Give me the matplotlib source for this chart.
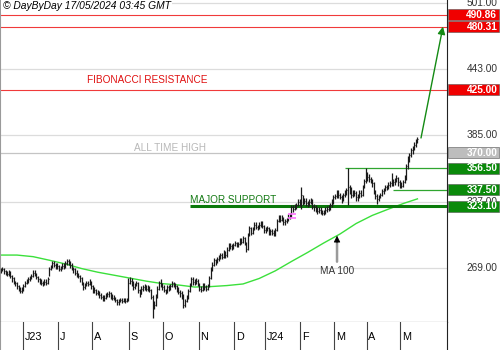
import numpy as np
import pandas as pd
import matplotlib
matplotlib.use("Agg")
import matplotlib.pyplot as plt
from matplotlib.patches import Rectangle

plt.rcParams['font.family'] = ['Liberation Sans', 'DejaVu Sans']

# trading days (Euronext holidays removed)
holidays = ['2023-12-25', '2023-12-26', '2024-01-01', '2024-03-29', '2024-04-01', '2024-05-01']
days = pd.bdate_range('2023-05-12', '2024-05-16')
days = days[~days.isin(pd.to_datetime(holidays))]

# daily closes
cl = [267, 268, 266, 265, 264, 265, 262, 260, 257, 256,
      253, 251, 249, 250, 253, 256, 257, 259, 260, 262,
      265, 264, 261, 259, 257, 256, 255, 257, 256, 259,
      268, 270, 273, 272, 270, 271, 268, 269, 271, 270,
      273, 275, 274, 272, 269, 268, 265, 264, 262, 260,
      256, 252, 254, 256, 255, 257, 253, 249, 250, 247,
      248, 245, 244, 242, 243, 245, 246, 247, 244, 243,
      243, 241, 239, 240, 241, 240, 241, 240, 241, 256,
      258, 257, 252, 254, 256, 250, 246, 251, 252, 253,
      251, 252, 250, 244, 234, 237, 244, 251, 256, 255,
      252, 250, 248, 252, 251, 253, 256, 254, 253, 250,
      248, 247, 244, 237, 240, 243, 249, 254, 259, 257,
      257, 258, 255, 251, 250, 254, 252, 251, 253, 260,
      268, 272, 276, 274, 277, 278, 280, 279, 283, 280,
      285, 289, 288, 287, 289, 291, 289, 290, 293, 292,
      295, 291, 286, 298, 304, 300, 303, 307, 305, 304,
      307, 308, 306, 302, 303, 304, 300, 301, 300, 299,
      302, 310, 313, 311, 313, 309, 310, 311, 314, 315,
      322, 321, 323, 324, 327, 326, 333, 327, 328, 326,
      325, 327, 328, 323, 322, 320, 319, 320, 318, 317,
      318, 320, 321, 322, 324, 326, 331, 332, 335, 333,
      331, 329, 333, 335, 337, 340, 338, 333, 334, 335,
      331, 332, 335, 333, 340, 345, 350, 349, 347, 346,
      343, 336, 332, 329, 331, 333, 336, 337, 340, 339,
      342, 343, 345, 344, 346, 348, 344, 342, 341, 344,
      348, 358, 365, 368, 372, 374, 377, 380, 382]

hi = [269, 270, 269, 267, 266, 267, 266, 263, 261, 258,
      257, 254, 252, 252, 255, 258, 259, 261, 262, 264,
      267, 267, 265, 262, 260, 259, 258, 259, 259, 261,
      270, 272, 275, 275, 273, 273, 272, 271, 273, 273,
      275, 277, 277, 275, 273, 270, 269, 267, 265, 263,
      261, 257, 256, 258, 258, 259, 258, 254, 252, 251,
      250, 249, 247, 245, 245, 247, 248, 249, 248, 246,
      245, 244, 242, 242, 243, 243, 243, 243, 243, 260,
      261, 260, 258, 256, 258, 257, 251, 253, 254, 255,
      254, 254, 253, 251, 245, 240, 246, 253, 258, 259,
      256, 254, 251, 254, 254, 255, 258, 257, 256, 254,
      252, 250, 249, 246, 242, 245, 251, 256, 261, 261,
      259, 260, 259, 256, 253, 256, 256, 254, 255, 262,
      270, 274, 278, 277, 279, 280, 282, 282, 285, 284,
      287, 291, 291, 290, 291, 293, 292, 292, 295, 295,
      297, 296, 292, 300, 306, 305, 305, 309, 309, 307,
      309, 310, 310, 307, 305, 306, 305, 303, 303, 302,
      304, 312, 315, 315, 315, 314, 312, 313, 316, 317,
      324, 324, 325, 326, 329, 329, 340, 333, 330, 330,
      328, 329, 330, 329, 325, 324, 322, 322, 322, 320,
      320, 322, 323, 324, 326, 329, 333, 334, 337, 337,
      335, 333, 335, 337, 339, 356.5, 342, 340, 337, 337,
      336, 334, 337, 337, 342, 347, 356.5, 353, 351, 349,
      347, 344, 337, 334, 333, 335, 338, 339, 342, 342,
      344, 345, 352.5, 347, 348, 350, 349, 346, 344, 346,
      350, 360, 367, 370, 374, 376, 379, 382, 384]

lo = [265, 266, 264, 263, 262, 262, 260, 257, 255, 253,
      251, 249, 247, 247, 249, 252, 255, 256, 258, 259,
      261, 262, 259, 257, 255, 254, 253, 254, 254, 255,
      262, 267, 269, 270, 268, 268, 266, 266, 268, 268,
      269, 272, 272, 269, 267, 265, 263, 261, 260, 257,
      254, 250, 251, 253, 253, 254, 251, 247, 247, 245,
      245, 243, 242, 240, 240, 242, 244, 244, 242, 241,
      241, 239, 237, 237, 239, 238, 239, 238, 239, 240,
      255, 253, 250, 251, 253, 247, 244, 246, 249, 250,
      249, 249, 248, 242, 225, 233, 236, 243, 250, 252,
      250, 248, 246, 247, 249, 250, 252, 252, 251, 248,
      246, 244, 242, 234, 235, 239, 242, 248, 253, 254,
      254, 255, 253, 249, 248, 249, 250, 249, 250, 252,
      259, 266, 271, 272, 273, 275, 277, 277, 278, 278,
      279, 284, 286, 285, 286, 288, 287, 287, 289, 290,
      291, 289, 283, 285, 297, 298, 299, 302, 303, 302,
      303, 305, 304, 300, 300, 301, 298, 298, 298, 297,
      297, 301, 309, 309, 310, 307, 307, 308, 310, 312,
      314, 318, 320, 321, 323, 323, 321, 324, 325, 323,
      322, 323, 325, 321, 319, 318, 316, 317, 316, 315,
      315, 316, 318, 319, 320, 322, 325, 329, 330, 330,
      329, 326, 328, 331, 333, 324, 334, 330, 331, 332,
      328, 328, 330, 331, 332, 339, 343, 345, 344, 343,
      340, 334, 329, 325, 328, 330, 332, 334, 336, 337,
      338, 340, 341, 341, 342, 344, 341, 339, 339, 340,
      343, 346, 356, 362, 366, 369, 372, 375, 378]

# 100-day moving average, sampled every 10 sessions
ma_idx = [0, 10, 20, 30, 40, 50, 60, 70, 80, 90, 100, 110, 120, 130,
          140, 150, 160, 170, 180, 190, 200, 210, 220, 230, 240, 250, 258]
ma_val = [280.3, 280.3, 278.9, 275.8, 272.5, 268.5, 265.3, 262.7, 260.1,
          257.5, 255.3, 254.1, 252.3, 252.7, 253.6, 255.0, 259.8, 266.5,
          274.7, 282.6, 290.9, 298.7, 307.9, 315.0, 320.5, 325.8, 329.5]

# horizontal levels
fibo_levels = [490.86, 480.31, 425.00]
ath_level = 370.00
box_levels = [356.50, 337.50]
support_level = 323.10
grid_levels = [501, 443, 385, 327, 269]
month_labels = ['J23', 'J', 'A', 'S', 'O', 'N', 'D', 'J24', 'F', 'M', 'A', 'M']
target = 480.31

n = len(cl)
idx = np.arange(n)
months = pd.Series(days.to_period('M'))
month_starts = [i for i in range(1, n) if months[i] != months[i - 1]]

fig = plt.figure(figsize=(5, 3.5), dpi=100)
ax = fig.add_axes([0, 28 / 350, 447 / 500, 322 / 350])
axr = fig.add_axes([447 / 500, 28 / 350, 53 / 500, 322 / 350])
axd = fig.add_axes([0, 0, 447 / 500, 28 / 350])

ymin, ymax = 221.7, 503.6
xmin, xmax = -0.5, 276.3
ax.set_xlim(xmin, xmax)
ax.set_ylim(ymin, ymax)

for g in grid_levels:
    ax.axhline(g, color='#dcdcdc', lw=0.9, zorder=0)

for f in fibo_levels:
    ax.axhline(f, color='#f03a3a', lw=0.8, zorder=1)
ax.axhline(ath_level, color='#c4c4c4', lw=0.9, zorder=1)
ax.hlines(box_levels[0], 213, xmax, color='#2fa52f', lw=0.9, zorder=1)
ax.hlines(box_levels[1], 243, xmax, color='#2fa52f', lw=0.9, zorder=1)
ax.hlines(support_level, 117, xmax, color='#0a7a0a', lw=2.2, zorder=3)

# moving average
ax.plot(ma_idx, ma_val, color='#3be03b', lw=1, zorder=2)

# OHLC bars
ax.vlines(idx, lo, hi, color='#1a1a1a', lw=0.9, zorder=4)
ax.hlines(cl, idx, idx + 0.6, color='#1a1a1a', lw=0.8, zorder=4)

# pink marker
ax.hlines([316.2, 312.7], 177.8, 183, color='#ff70ff', lw=1.2, zorder=5)

# projection arrow
ax.annotate('', xy=(273.8, target), xytext=(260.2, 382.8),
            arrowprops=dict(arrowstyle='-|>', color='#138a13', lw=1,
                            mutation_scale=11, shrinkA=0, shrinkB=0), zorder=6)

# MA 100 pointer: grey shaft, black head
ax.annotate('', xy=(208.2, 292.0), xytext=(208.2, 274.5),
            arrowprops=dict(arrowstyle='-', color='#9a9a9a', lw=1.8,
                            shrinkA=0, shrinkB=0), zorder=6)
ax.annotate('', xy=(208.2, 297.2), xytext=(208.2, 291.0),
            arrowprops=dict(arrowstyle='-|>', color='black', lw=0.5,
                            mutation_scale=10, shrinkA=0, shrinkB=0), zorder=7)
ax.text(208.2, 266.3, 'MA 100', ha='center', va='center', fontsize=7.2, color='#333333')

ax.text(53.4, 433.6, 'FIBONACCI RESISTANCE', ha='left', va='center', fontsize=7.2, color='#e01010')
ax.text(82.5, 374.2, 'ALL TIME HIGH', ha='left', va='center', fontsize=7.2, color='#b8b8b8')
ax.text(117.2, 328.4, 'MAJOR SUPPORT', ha='left', va='center', fontsize=7.2, color='#147a14')

ax.text(0.006, 0.997, '\u00a9 DayByDay 17/05/2024 03:45 GMT', transform=ax.transAxes,
        ha='left', va='top', fontsize=7.4, style='italic', color='black', zorder=7,
        bbox=dict(boxstyle='square,pad=0.15', fc='white', ec='none'))

ax.set_xticks([])
ax.set_yticks([])
ax.spines['top'].set_visible(False)
ax.spines['left'].set_color('#9a9a9a')
ax.spines['right'].set_color('#222222')
ax.spines['bottom'].set_color('#222222')

# right price scale
axr.set_xlim(0, 1)
axr.set_ylim(ymin, ymax)
axr.axis('off')
for g in grid_levels:
    axr.text(0.95, g, f'{g:.2f}', ha='right', va='center', fontsize=7.3, color='#333333')
box_h = 11 / 1.142
boxes = [(v, '#f00000') for v in fibo_levels] + [(ath_level, '#bdbdbd')] + \
        [(v, '#0a8a0a') for v in box_levels + [support_level]]
for v, c in boxes:
    axr.add_patch(Rectangle((0.02, v - box_h / 2), 0.96, box_h, fc=c, ec='#555555', lw=0.4, zorder=3))
    axr.text(0.95, v, f'{v:.2f}', ha='right', va='center', fontsize=7.3,
             color='white', fontweight='bold', zorder=4)

# month band
axd.set_xlim(xmin, xmax)
axd.set_ylim(0, 1)
axd.set_xticks([])
axd.set_yticks([])
for s in ['top', 'bottom']:
    axd.spines[s].set_visible(False)
axd.spines['left'].set_color('#9a9a9a')
axd.spines['right'].set_color('#222222')
for m, lab in zip(month_starts, month_labels):
    axd.axvline(m - 0.5, color='#444444', lw=0.8)
    axd.text(m + 0.6, 0.45, lab, ha='left', va='center', fontsize=7.8, color='black')

fig.savefig('out.png', dpi=100)
